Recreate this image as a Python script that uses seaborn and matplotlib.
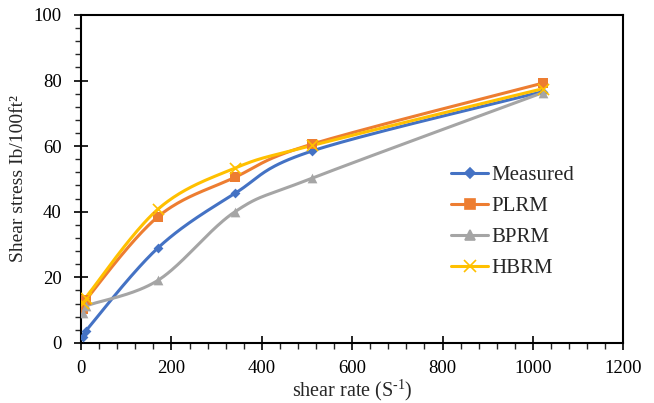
import numpy as np
import pandas as pd
import matplotlib
matplotlib.use("Agg")
import matplotlib.pyplot as plt
import seaborn as sns
from matplotlib.ticker import MultipleLocator
from matplotlib.lines import Line2D

shear_rate = [5.1, 10.2, 170.3, 340.6, 510.9, 1021.8]
measured = [1.8, 3.6, 29.0, 45.6, 58.5, 76.6]
plrm = [10.3, 13.0, 38.5, 50.5, 60.6, 79.2]
bprm = [9.0, 11.2, 19.1, 40.0, 50.2, 76.3]
hbrm = [12.3, 13.8, 40.8, 53.3, 60.2, 77.5]

series_names = ["Measured", "PLRM", "BPRM", "HBRM"]
series_values = [measured, plrm, bprm, hbrm]
colors = ["#4472C4", "#ED7D31", "#A5A5A5", "#FFC000"]
markers = ["D", "s", "^", "x"]
msizes = [5, 7, 7, 8]

sns.set_theme(style="ticks")
plt.rcParams["font.family"] = ["Liberation Serif", "DejaVu Serif"]
plt.rcParams["mathtext.fontset"] = "custom"
plt.rcParams["mathtext.rm"] = "Liberation Serif"
plt.rcParams["mathtext.it"] = "Liberation Serif"


def smooth(x, y, n=40):
    """Excel-style Bezier smoothing through the points."""
    P = np.column_stack([x, y]).astype(float)
    out = []
    m = len(P)
    t = np.linspace(0, 1, n)
    for i in range(m - 1):
        p0 = P[i - 1] if i > 0 else P[i]
        p1 = P[i]
        p2 = P[i + 1]
        p3 = P[i + 2] if i + 2 < m else P[i + 1]
        c1 = p1 + (p2 - p0) / 6.0
        c2 = p2 - (p3 - p1) / 6.0
        seg = ((1 - t) ** 3)[:, None] * p1 + (3 * (1 - t) ** 2 * t)[:, None] * c1 \
            + (3 * (1 - t) * t ** 2)[:, None] * c2 + (t ** 3)[:, None] * p2
        out.append(seg if i == 0 else seg[1:])
    S = np.vstack(out)
    return S[:, 0], S[:, 1]


fig, ax = plt.subplots(figsize=(6.54, 4.03), dpi=100)
fig.subplots_adjust(left=0.124, right=0.953, top=0.963, bottom=0.149)

handles = []
for name, vals, c, mk, ms in zip(series_names, series_values, colors, markers, msizes):
    sx, sy = smooth(shear_rate, vals)
    sns.lineplot(x=sx, y=sy, ax=ax, color=c, linewidth=2.2, sort=False, estimator=None)
    df = pd.DataFrame({"x": shear_rate, "y": vals})
    if mk == "x":
        ax.scatter(df["x"], df["y"], marker="x", s=ms ** 2, color=c, linewidths=1.2, zorder=3)
    else:
        sns.scatterplot(data=df, x="x", y="y", ax=ax, marker=mk, s=ms ** 2,
                        color=c, edgecolor=c, linewidth=0, zorder=3)
    handles.append(Line2D([0], [0], color=c, linewidth=2.2, marker=mk,
                          markersize=ms if mk != "x" else 8, markeredgewidth=1.2))

ax.set_xlim(0, 1200)
ax.set_ylim(0, 100)
ax.xaxis.set_major_locator(MultipleLocator(200))
ax.xaxis.set_minor_locator(MultipleLocator(40))
ax.yaxis.set_major_locator(MultipleLocator(20))
ax.yaxis.set_minor_locator(MultipleLocator(4))
ax.tick_params(axis="y", which="major", direction="inout", length=10, width=1.2,
               labelsize=13.5, colors="black", pad=9)
ax.tick_params(axis="x", which="major", direction="inout", length=10, width=1.2,
               labelsize=13.5, colors="black", pad=7)
ax.tick_params(axis="both", which="minor", direction="out", length=4, width=1.0)
ax.tick_params(axis="both", which="both", top=False, right=False)
for sp in ax.spines.values():
    sp.set_visible(True)
    sp.set_color("black")
    sp.set_linewidth(1.5)

ax.set_xlabel("shear rate (S$^{\\text{-1}}$)", fontsize=14.5, labelpad=0.5)
ax.set_ylabel("Shear stress Ib/100ft²", fontsize=14, labelpad=5)

leg = ax.legend(handles, series_names, loc="center left", bbox_to_anchor=(0.682, 0.37),
                frameon=False, fontsize=15, handlelength=1.8, labelspacing=0.55,
                handletextpad=0.15, borderpad=0, borderaxespad=0)

fig.savefig("out.png", dpi=100)
